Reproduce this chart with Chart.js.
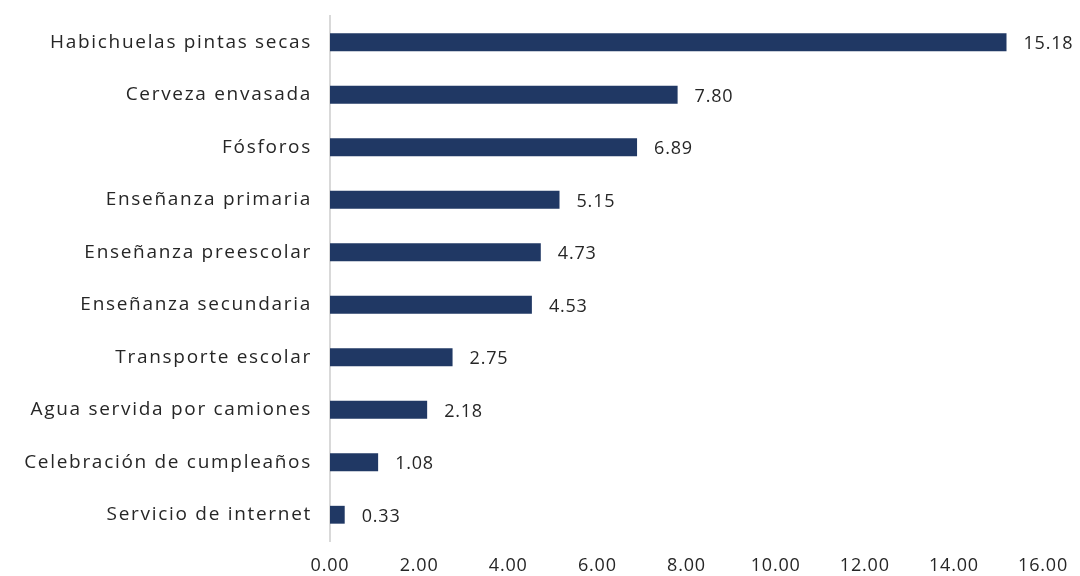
<!DOCTYPE html>
<html>
<head>
<meta charset="utf-8">
<script src="https://cdn.jsdelivr.net/npm/chart.js@4/dist/chart.umd.min.js"></script>
<style>
  html, body { margin: 0; padding: 0; background: #fff; }
  #wrap { width: 1080px; height: 576px; position: relative; }
</style>
</head>
<body>
<div id="wrap"><canvas id="chartBars"></canvas></div>
<script>
  const categories = [
    "Habichuelas pintas secas",
    "Cerveza envasada",
    "Fósforos",
    "Enseñanza primaria",
    "Enseñanza preescolar",
    "Enseñanza secundaria",
    "Transporte escolar",
    "Agua servida por camiones",
    "Celebración de cumpleaños",
    "Servicio de internet"
  ];
  const values = [15.18, 7.80, 6.89, 5.15, 4.73, 4.53, 2.75, 2.18, 1.08, 0.33];
  const xTicks = [0, 2, 4, 6, 8, 10, 12, 14, 16];

  const FONT = "'Open Sans', sans-serif";
  const TEXT = "#262626";

  /* wide letters for the category labels (reference font is very wide) */
  const spacing = {
    id: "spacing",
    afterUpdate(chart) {
      const y = chart.scales.y;
      if (y && !y._wrapped) {
        const orig = y.drawLabels;
        y.drawLabels = function (area) {
          chart.ctx.letterSpacing = "1.7px";
          orig.call(this, area);
          chart.ctx.letterSpacing = "0.8px";
        };
        y._wrapped = true;
      }
    },
    beforeDraw(chart) { chart.ctx.letterSpacing = "0.8px"; },
    afterDraw(chart) { chart.ctx.letterSpacing = "0px"; }
  };

  /* value labels at bar ends */
  const valueLabels = {
    id: "valueLabels",
    afterDatasetsDraw(chart) {
      const ctx = chart.ctx;
      const meta = chart.getDatasetMeta(0);
      ctx.save();
      ctx.letterSpacing = "0.8px";
      ctx.font = "18px " + FONT;
      ctx.fillStyle = TEXT;
      ctx.textAlign = "left";
      ctx.textBaseline = "middle";
      meta.data.forEach(function (bar, i) {
        ctx.fillText(values[i].toFixed(2), bar.x + 17, bar.y + 2);
      });
      ctx.restore();
    }
  };

  new Chart(document.getElementById("chartBars").getContext("2d"), {
    type: "bar",
    data: {
      labels: categories,
      datasets: [
        {
          data: values,
          backgroundColor: "#203864",
          borderWidth: 0,
          barPercentage: 0.34,
          categoryPercentage: 1.0
        }
      ]
    },
    options: {
      indexAxis: "y",
      responsive: true,
      maintainAspectRatio: false,
      animation: false,
      layout: { padding: { top: 16, right: 33, bottom: 0, left: 0 } },
      plugins: {
        legend: { display: false },
        tooltip: { enabled: false }
      },
      scales: {
        x: {
          min: 0,
          max: 16,
          afterBuildTicks(axis) {
            axis.ticks = xTicks.map(function (v) { return { value: v }; });
          },
          afterFit(axis) { axis.height = 35; },
          grid: { display: false, drawTicks: false },
          border: { display: false },
          ticks: {
            padding: 14,
            color: TEXT,
            font: { family: FONT, size: 18 },
            callback: function (v) { return Number(v).toFixed(2); }
          }
        },
        y: {
          afterFit(axis) {
            axis.width = 330;
            axis.paddingTop = 0;
            axis.paddingBottom = 0;
          },
          grid: { display: false, drawTicks: false },
          border: { display: true, color: "#d9d9d9", width: 2 },
          ticks: {
            padding: 18,
            color: TEXT,
            font: { family: FONT, size: 19 }
          }
        }
      }
    },
    plugins: [spacing, valueLabels]
  });
</script>
</body>
</html>
